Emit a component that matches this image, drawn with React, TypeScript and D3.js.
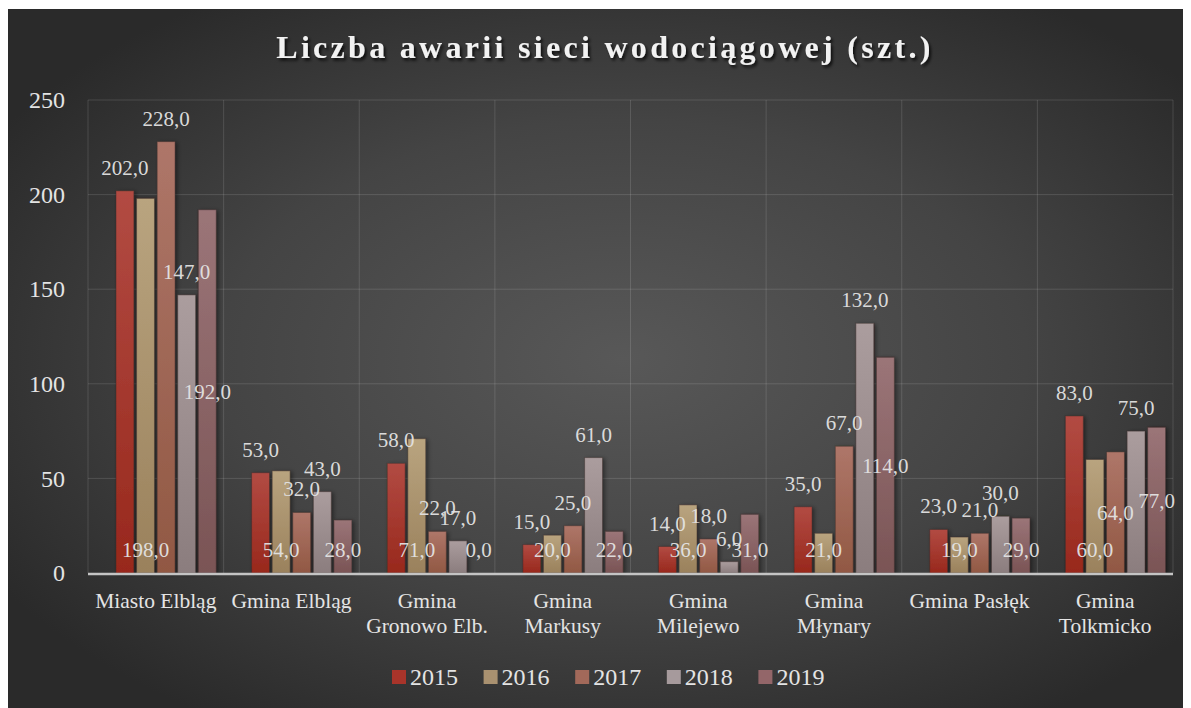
import * as d3 from "d3";

const categoryLines: string[][] = [
  ["Miasto Elbląg"],
  ["Gmina Elbląg"],
  ["Gmina", "Gronowo Elb."],
  ["Gmina", "Markusy"],
  ["Gmina", "Milejewo"],
  ["Gmina", "Młynary"],
  ["Gmina Pasłęk"],
  ["Gmina", "Tolkmicko"],
];

const years = ["2015", "2016", "2017", "2018", "2019"];

const v2015 = [202, 53, 58, 15, 14, 35, 23, 83];
const v2016 = [198, 54, 71, 20, 36, 21, 19, 60];
const v2017 = [228, 32, 22, 25, 18, 67, 21, 64];
const v2018 = [147, 43, 17, 61, 6, 132, 30, 75];
const v2019 = [192, 28, 0, 22, 31, 114, 29, 77];

// where each data label sits: above the bar, at its base, or in its middle
type Pos = "end" | "base" | "center";
const p2015: Pos[] = ["end", "end", "end", "end", "end", "end", "end", "end"];
const p2016: Pos[] = ["base", "base", "base", "base", "base", "base", "base", "base"];
const p2017: Pos[] = ["end", "end", "end", "end", "end", "end", "end", "center"];
const p2018: Pos[] = ["end", "end", "end", "end", "end", "end", "end", "end"];
const p2019: Pos[] = ["center", "base", "base", "base", "base", "center", "base", "center"];

const yTicks = [0, 50, 100, 150, 200, 250];

const series = [
  { year: "2015", values: v2015, pos: p2015, top: "#b24b43", bottom: "#98281c", legend: "#a8342a" },
  { year: "2016", values: v2016, pos: p2016, top: "#b9a47f", bottom: "#9a815c", legend: "#a99170" },
  { year: "2017", values: v2017, pos: p2017, top: "#ae7669", bottom: "#915843", legend: "#a2695a" },
  { year: "2018", values: v2018, pos: p2018, top: "#ab9d9e", bottom: "#8b7d7e", legend: "#a69a9c" },
  { year: "2019", values: v2019, pos: p2019, top: "#9b7578", bottom: "#7a5455", legend: "#936669" },
];

const W = 1183;
const H = 699;
const M = { left: 80, right: 18, top: 91, bottom: 135 };
const FONT = "'Liberation Serif', 'Times New Roman', serif";
const TXT = "#e4e4e4";

export default function App() {
  const plotW = W - M.left - M.right;
  const zeroY = H - M.bottom;

  const x = d3
    .scaleBand<number>()
    .domain(categoryLines.map((_, i) => i))
    .range([M.left, M.left + plotW]);

  // six slots per group, the first one stays empty (as in the source chart)
  const inner = d3
    .scaleBand<string>()
    .domain(["", ...years])
    .range([0, x.bandwidth()])
    .paddingInner(0.13)
    .paddingOuter(0.36);

  const y = d3.scaleLinear().domain([0, 250]).range([zeroY, M.top]);

  const fmt = (v: number) => v.toFixed(1).replace(".", ",");

  const legendX = d3
    .scaleBand<string>()
    .domain(years)
    .range([384, 384 + 5 * 91.6]);

  return (
    <svg width={W} height={H} style={{ display: "block", marginTop: 1 }} fontFamily={FONT}>
      <defs>
        <radialGradient id="bg" cx="52%" cy="50%" r="62%">
          <stop offset="0%" stopColor="#585858" />
          <stop offset="55%" stopColor="#444444" />
          <stop offset="100%" stopColor="#2a2a2a" />
        </radialGradient>
        {series.map((s) => (
          <linearGradient key={s.year} id={`g${s.year}`} x1="0" y1="0" x2="0" y2="1">
            <stop offset="0%" stopColor={s.top} />
            <stop offset="100%" stopColor={s.bottom} />
          </linearGradient>
        ))}
        <filter id="tshadow" x="-10%" y="-30%" width="120%" height="160%">
          <feDropShadow dx="2" dy="2.5" stdDeviation="1.8" floodColor="#000" floodOpacity="0.75" />
        </filter>
        <filter id="bshadow" x="-30%" y="-10%" width="160%" height="120%">
          <feDropShadow dx="2" dy="1" stdDeviation="2" floodColor="#000" floodOpacity="0.45" />
        </filter>
      </defs>

      <rect x={0} y={0} width={W} height={H} fill="url(#bg)" />

      <text
        x={597}
        y={49}
        textAnchor="middle"
        fontSize={32}
        fontWeight="bold"
        letterSpacing={3.3}
        fill="#f2f2f2"
        filter="url(#tshadow)"
      >
        Liczba awarii sieci wodociągowej (szt.)
      </text>

      {/* gridlines */}
      {yTicks
        .filter((t) => t > 0)
        .map((t) => (
          <line key={t} x1={M.left} x2={M.left + plotW} y1={y(t)} y2={y(t)} stroke="#ffffff" strokeOpacity={0.13} />
        ))}
      {d3.range(categoryLines.length + 1).map((i) => {
        const xx = M.left + i * x.step();
        return <line key={i} x1={xx} x2={xx} y1={M.top} y2={zeroY} stroke="#ffffff" strokeOpacity={0.13} />;
      })}

      {/* y tick labels */}
      {yTicks.map((t) => (
        <text key={t} x={57} y={y(t)} dy="0.34em" textAnchor="end" fontSize={24} fill={TXT}>
          {t}
        </text>
      ))}

      {/* bars */}
      <g filter="url(#bshadow)">
        {series.map((s) =>
          s.values.map((v, i) => (
            <rect
              key={s.year + i}
              x={(x(i) ?? 0) + (inner(s.year) ?? 0)}
              y={y(v)}
              width={inner.bandwidth()}
              height={zeroY - y(v)}
              fill={`url(#g${s.year})`}
              stroke="#3a2a28"
              strokeOpacity={0.45}
              strokeWidth={1}
            />
          ))
        )}
      </g>

      {/* axis line */}
      <line x1={M.left} x2={M.left + plotW} y1={zeroY + 1} y2={zeroY + 1} stroke="#c4c4c4" strokeWidth={2.5} />

      {/* data labels */}
      {series.map((s) =>
        s.values.map((v, i) => {
          const cx = (x(i) ?? 0) + (inner(s.year) ?? 0) + inner.bandwidth() / 2;
          const p = s.pos[i];
          const ly = p === "end" ? y(v) - 16 : p === "base" ? zeroY - 16 : (y(v) + zeroY) / 2 + 8;
          return (
            <text key={s.year + i} x={cx} y={ly} textAnchor="middle" fontSize={21} fill={TXT} fillOpacity={0.95}>
              {fmt(v)}
            </text>
          );
        })
      )}

      {/* category labels */}
      {categoryLines.map((lines, i) => (
        <text key={i} textAnchor="middle" fontSize={21.5} fill={TXT}>
          {lines.map((ln, j) => (
            <tspan key={j} x={(x(i) ?? 0) + x.bandwidth() / 2} y={599 + j * 25}>
              {ln}
            </tspan>
          ))}
        </text>
      ))}

      {/* legend */}
      {series.map((s) => (
        <g key={s.year} transform={`translate(${legendX(s.year)},0)`}>
          <rect x={0} y={661} width={14} height={14} fill={s.legend} />
          <text x={18} y={676} fontSize={24} fill={TXT}>
            {s.year}
          </text>
        </g>
      ))}
    </svg>
  );
}
